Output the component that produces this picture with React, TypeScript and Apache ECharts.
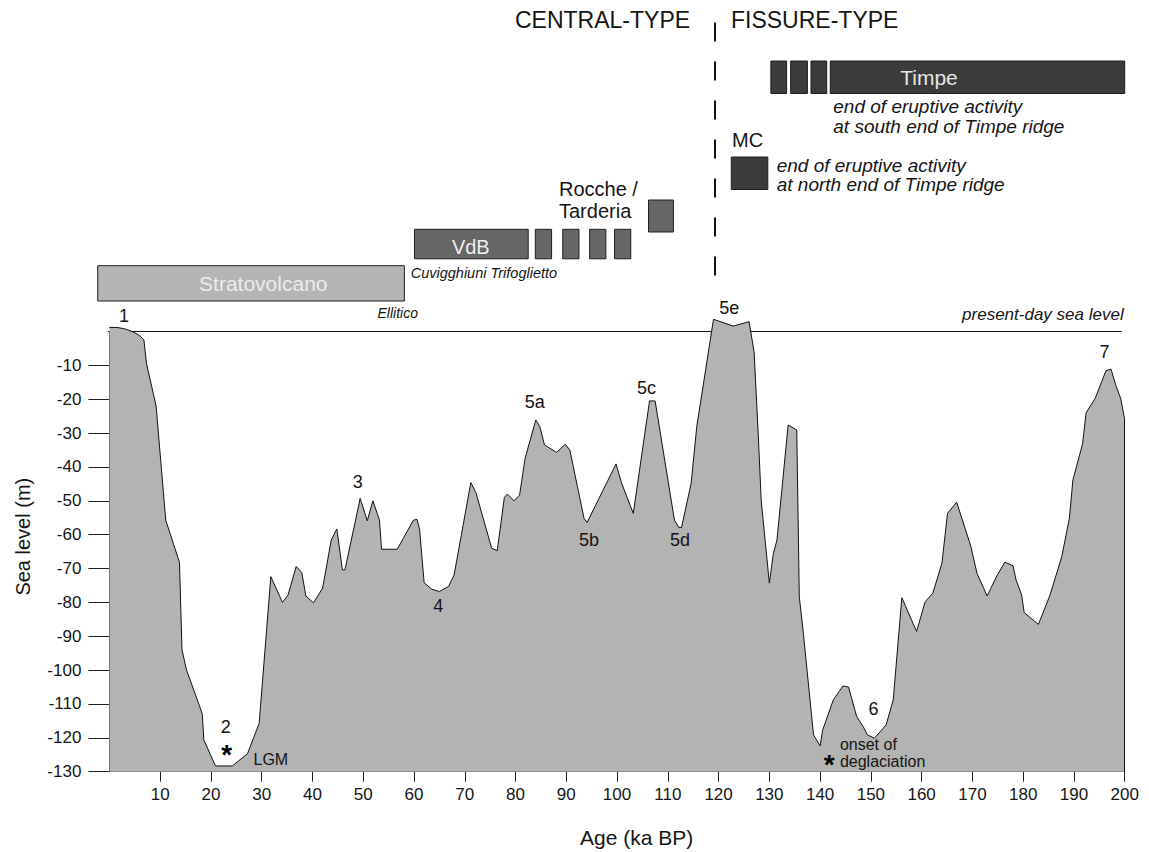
import React, { useEffect, useRef } from "react";
import * as echarts from "echarts";

// ---- Sea-level curve (age in ka BP, sea level in m) ----
const ageKa = [
  0, 1.5, 3, 4.5, 5.8, 6.8, 7.3, 9.2, 11.1, 13.8, 14.3, 15.2, 17.8, 18.3, 18.6, 20.9, 24.2, 27.2, 29.5, 31.8,
  34.1, 35.2, 36.8, 37.9, 38.7, 40.2, 42, 43.7, 44.8, 45.9, 46.4, 49.4, 50.8, 51.9, 53.2, 53.6, 56.7, 59.9, 60.6, 61.1,
  62, 63.5, 65, 66.8, 67.9, 71.2, 72.2, 75.3, 76.4, 77.8, 78.4, 79.7, 80.8, 81.9, 84, 84.8, 85.7, 88.1, 89.8, 90.7,
  93.5, 94.1, 99.8, 100.9, 103.2, 106.4, 107.5, 111.3, 112.2, 112.7, 114.6, 115.7, 119, 122.9, 126, 127, 127.8, 128.4, 130, 130.8,
  131.5, 133.7, 135.4, 135.9, 136.7, 138.7, 140, 140.5, 142.6, 144.5, 145.6, 146.2, 147.2, 148.5, 149.3, 150.7, 153, 154.4, 156.1, 159,
  160.7, 162.2, 164, 165.1, 166.9, 169.7, 170.9, 172.9, 174.8, 176.4, 178, 178.6, 179.7, 180.2, 183, 185.3, 187.6, 189.1, 189.8, 191.7,
  192.4, 194.2, 196.3, 197.3, 198.3, 199.2, 199.9, 200,
];
const seaLevelM = [
  1.2, 1.2, 0.8, 0, -1, -2.5, -9.4, -22, -55.7, -68.2, -94, -100, -110.8, -113, -120.6, -128.3, -128.3, -124.7, -115.7, -72.4,
  -80, -77.8, -69.4, -71.2, -78.1, -80.1, -75.8, -61.6, -58.3, -70.4, -70.4, -49.3, -55.9, -50, -55.7, -64.3, -64.3, -55.7, -55.5, -58.4,
  -74.2, -76.1, -76.8, -75.3, -71.9, -44.6, -47.6, -64, -64.7, -49, -48, -50, -48.3, -37.4, -26.1, -28.1, -33.5, -35.7, -33.3, -35,
  -55.2, -56.4, -39.1, -44.8, -53.7, -20.5, -20.5, -55.7, -57.9, -57.9, -44.8, -28.1, 3.6, 1.6, 2.9, -6, -30, -50, -74.3, -65.5,
  -61.6, -27.6, -29.1, -78.3, -89.1, -119.1, -122.4, -117.7, -108.8, -104.7, -105, -108.3, -113.7, -116.7, -119.1, -120.1, -116.2, -108.8, -78.6, -88.6,
  -79.8, -77.3, -68.4, -53.7, -50.4, -63.5, -71.4, -78.1, -72.2, -68.1, -69.2, -73.4, -77.8, -83, -86.5, -77.8, -66.5, -55.2, -43.8, -33.2,
  -24, -19.7, -11.6, -11.1, -16.1, -19.7, -25.2, -26,
];

// ---- Axis ticks ----
const xTickValues = [10, 20, 30, 40, 50, 60, 70, 80, 90, 100, 110, 120, 130, 140, 150, 160, 170, 180, 190, 200];
const yTickValues = [-130, -120, -110, -100, -90, -80, -70, -60, -50, -40, -30, -20, -10];
const yTickLabels = ["-130", "-120", "-110", "-100", "-90", "-80", "-70", "-60", "-50", "-40", "-30", "-20", "-10"];

// ---- Peak / stage labels ----
const stageLabels = ["1", "2", "3", "4", "5a", "5b", "5c", "5d", "5e", "6", "7"];
const stageAges = [2.9, 22.9, 48.9, 64.8, 83.8, 94.5, 105.8, 112.4, 122.1, 150.5, 196];
const stageLevels = [4.6, -116.8, -44.3, -81, -20.7, -61.6, -16.8, -61.6, 6.8, -111.5, -6];

// ---- Volcanic units (age ranges in ka) ----
const stratoRanges = [[-2.3, 58.1]];
const vdbRanges = [[60.1, 82.5], [83.9, 87.1], [89.3, 92.5], [94.6, 97.8], [99.5, 102.7]];
const roccheRanges = [[106.2, 111.1]];
const mcRanges = [[122.5, 129.7]];
const timpeRanges = [[130.3, 133.4], [134.2, 137.5], [138.2, 141.3], [142.0, 200.0]];
const dividerAge = 119.3;

const FONT = '"Liberation Sans", Arial, Helvetica, sans-serif';
const INK = "#151515";

// row layout (pixels) and styles for the unit bars
const rowLayout = [
  { top: 265.7, height: 35.3, fill: "#b5b5b5" },
  { top: 229.3, height: 29.5, fill: "#666666" },
  { top: 200, height: 32, fill: "#666666" },
  { top: 157, height: 32.5, fill: "#3b3b3b" },
  { top: 61, height: 32.5, fill: "#3b3b3b" },
];

function buildOption() {
  const curve = ageKa.map((a, i) => [a, seaLevelM[i]]);
  const first = curve[0];
  const last = curve[curve.length - 1];

  const blockData: number[][] = [];
  [stratoRanges, vdbRanges, roccheRanges, mcRanges, timpeRanges].forEach((ranges, row) => {
    ranges.forEach((r) => blockData.push([r[0], r[1], row]));
  });

  const lbl = (text: string, extra: any = {}) => ({
    show: true,
    formatter: text,
    position: "inside",
    distance: 0,
    fontFamily: FONT,
    fontSize: 18,
    color: INK,
    opacity: 1,
    textBorderWidth: 0,
    ...extra,
  });

  const annotations: any[] = stageLabels.map((t, i) => ({
    value: [stageAges[i], stageLevels[i]],
    label: lbl(t),
  }));
  annotations.push({ value: [23.1, -124.8], label: lbl("*", { fontSize: 28, fontWeight: "bold", color: "#000" }) });
  annotations.push({ value: [141.8, -127.8], label: lbl("*", { fontSize: 28, fontWeight: "bold", color: "#000" }) });
  annotations.push({ value: [31.8, -126.5], label: lbl("LGM", { fontSize: 16 }) });
  annotations.push({
    value: [143.8, -124.5],
    label: lbl("onset of\ndeglaciation", { fontSize: 16, lineHeight: 16.7, position: "right" }),
  });
  annotations.push({
    value: [199.9, 4.9],
    label: lbl("present-day sea level", { fontSize: 17, fontStyle: "italic", position: "left" }),
  });

  const axisLineStyle = { color: "#222", width: 1 };

  const txt = (text: string, x: number, y: number, font: string, extra: any = {}, fill = INK) => ({
    type: "text",
    x,
    y,
    z: 10,
    style: { text, font: `${font} ${FONT}`, fill, align: "left", verticalAlign: "middle", ...extra },
  });

  return {
    animation: false,
    backgroundColor: "#ffffff",
    grid: { left: 109.4, top: 331.5, width: 1015.3, height: 440.2, containLabel: false },
    xAxis: {
      type: "value",
      min: 0,
      max: 200,
      interval: 10,
      axisLine: { show: true, onZero: false, lineStyle: axisLineStyle },
      axisTick: { show: true, length: 10, customValues: xTickValues, lineStyle: axisLineStyle },
      axisLabel: {
        customValues: xTickValues,
        fontFamily: FONT,
        fontSize: 17,
        color: INK,
        margin: 14,
      },
      splitLine: { show: false },
    },
    yAxis: {
      type: "value",
      min: -130,
      max: 0,
      interval: 10,
      axisLine: { show: true, onZero: false, lineStyle: axisLineStyle },
      axisTick: { show: true, length: 21, customValues: yTickValues, lineStyle: axisLineStyle },
      axisLabel: {
        customValues: yTickValues,
        formatter: (v: number) => {
          const idx = yTickValues.indexOf(Math.round(v));
          return idx >= 0 ? yTickLabels[idx] : "";
        },
        fontFamily: FONT,
        fontSize: 17,
        color: INK,
        margin: 28,
      },
      splitLine: { show: false },
    },
    series: [
      {
        name: "present-day sea level",
        type: "line",
        data: [[-4.3, 0], [199.4, 0]],
        symbol: "none",
        clip: false,
        silent: true,
        z: 1,
        lineStyle: { color: "#111", width: 1 },
      },
      {
        name: "Sea level",
        type: "line",
        data: curve,
        symbol: "none",
        clip: false,
        silent: true,
        z: 2,
        lineStyle: { color: "#111", width: 1 },
        areaStyle: { color: "#b3b3b3", opacity: 1, origin: "start" },
        markLine: {
          silent: true,
          symbol: ["none", "none"],
          label: { show: false },
          lineStyle: { color: "#111", width: 1, type: "solid" },
          data: [
            [{ coord: [first[0], first[1]] }, { coord: [first[0], -130] }],
            [{ coord: [last[0], last[1]] }, { coord: [last[0], -130] }],
          ],
        },
      },
      {
        name: "annotations",
        type: "scatter",
        data: annotations,
        symbol: "circle",
        symbolSize: 1,
        itemStyle: { color: "rgba(0,0,0,0)", opacity: 1 },
        clip: false,
        silent: true,
        z: 5,
      },
      {
        name: "units",
        type: "custom",
        clip: false,
        silent: true,
        z: 4,
        data: blockData,
        encode: { x: [0, 1] },
        renderItem: (params: any, api: any) => {
          const s = api.value(0);
          const e = api.value(1);
          const row = rowLayout[api.value(2)];
          const x0 = api.coord([s, 0])[0];
          const x1 = api.coord([e, 0])[0];
          return {
            type: "rect",
            shape: { x: x0, y: row.top, width: x1 - x0, height: row.height },
            style: { fill: row.fill, stroke: "#1e1e1e", lineWidth: 1 },
          };
        },
      },
      {
        name: "divider",
        type: "custom",
        clip: false,
        silent: true,
        z: 4,
        data: [[dividerAge]],
        encode: { x: 0 },
        renderItem: (params: any, api: any) => {
          const x = api.coord([api.value(0), 0])[0];
          return {
            type: "line",
            shape: { x1: x, y1: 22.5, x2: x, y2: 278 },
            style: { stroke: "#111", lineWidth: 2, lineDash: [19, 20] },
          };
        },
      },
    ],
    graphic: [
      txt("CENTRAL-TYPE", 515, 19.5, "23px"),
      txt("FISSURE-TYPE", 731, 19.5, "23px"),
      txt("Stratovolcano", 263.3, 283, "21px", { align: "center" }, "#ececec"),
      txt("VdB", 470.8, 246.5, "20px", { align: "center" }, "#eeeeee"),
      txt("Timpe", 929, 77.5, "21px", { align: "center" }, "#e6e6e6"),
      txt("Rocche /", 559, 189, "20px"),
      txt("Tarderia", 559, 210.5, "20px"),
      txt("MC", 732, 140, "20px"),
      txt("end of eruptive activity", 833.3, 106.7, "italic 19px"),
      txt("at south end of Timpe ridge", 833.3, 126, "italic 19px"),
      txt("end of eruptive activity", 776.7, 165, "italic 19px"),
      txt("at north end of Timpe ridge", 776.7, 184.3, "italic 19px"),
      txt("Cuvigghiuni Trifoglietto", 410.7, 273, "italic 14.5px"),
      txt("Ellitico", 418, 313, "italic 14px", { align: "right" }),
      {
        type: "text",
        x: 23,
        y: 536.7,
        rotation: Math.PI / 2,
        style: { text: "Sea level (m)", font: `20px ${FONT}`, fill: INK, align: "center", verticalAlign: "middle" },
      },
      txt("Age (ka BP)", 636.7, 837, "21px", { align: "center" }),
    ],
  };
}

export default function App() {
  const ref = useRef<HTMLDivElement>(null);
  useEffect(() => {
    document.body.style.margin = "0";
    const chart = echarts.init(ref.current as HTMLDivElement, null, { renderer: "svg" });
    chart.setOption(buildOption() as any);
    return () => chart.dispose();
  }, []);
  return <div ref={ref} style={{ width: 1149, height: 852, background: "#ffffff" }} />;
}
